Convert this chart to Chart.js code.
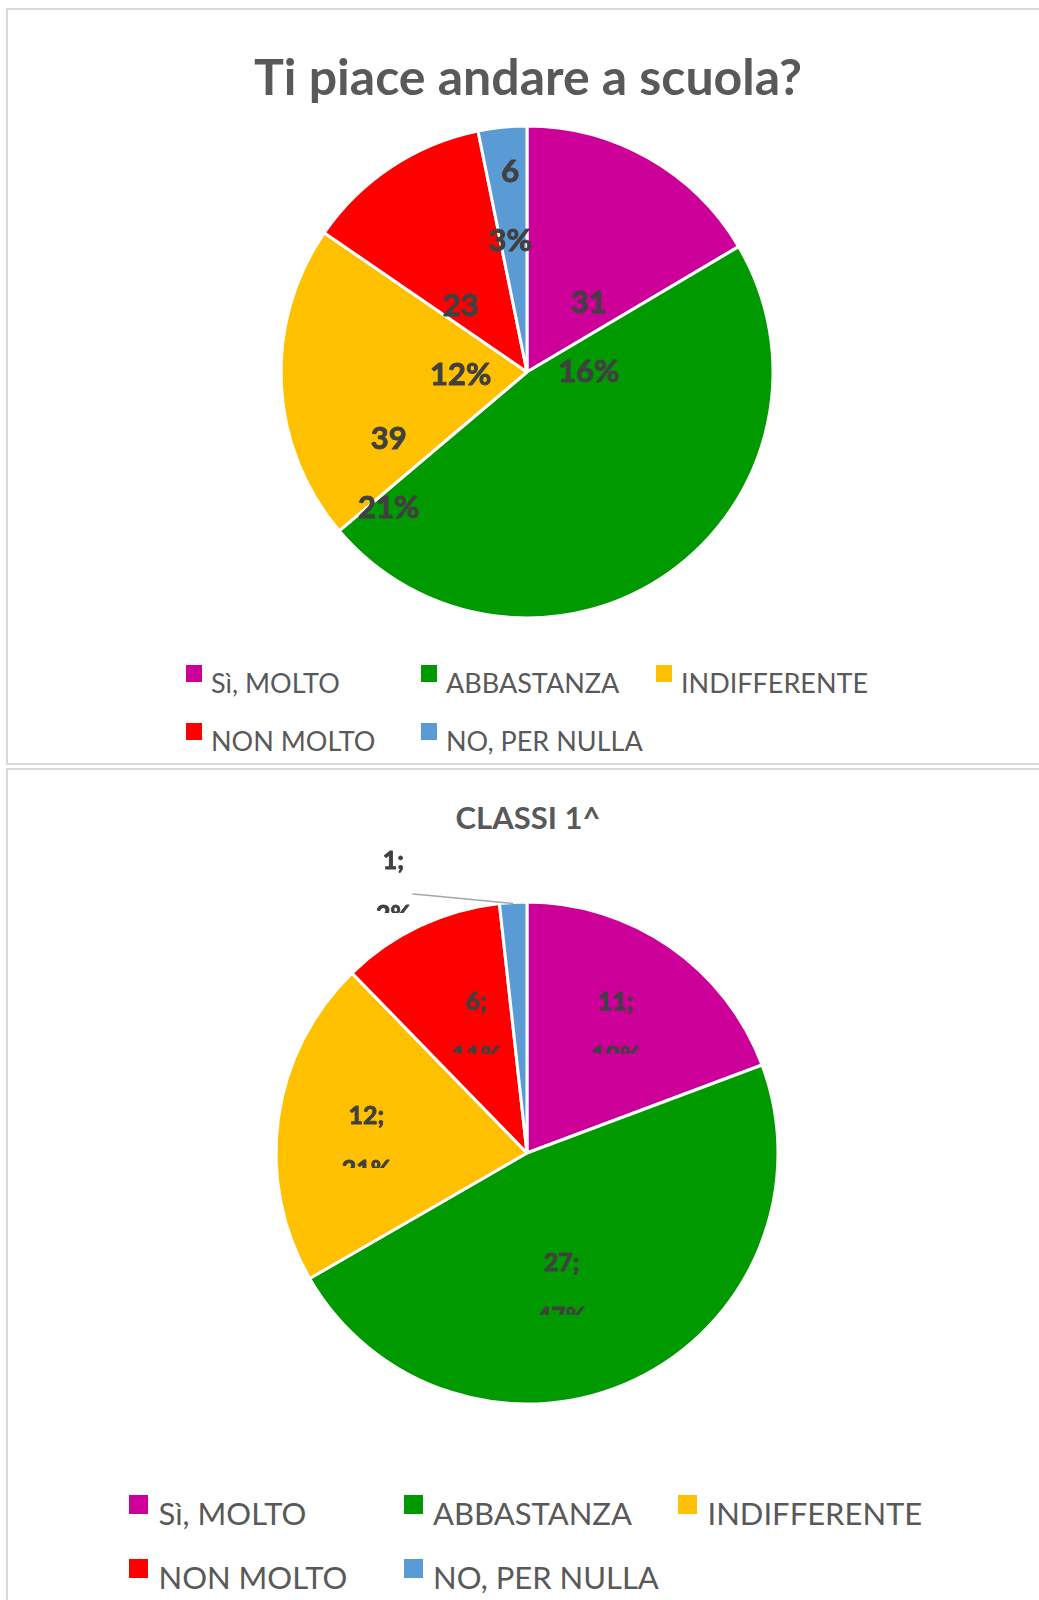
<!DOCTYPE html>
<html>
<head>
<meta charset="utf-8">
<title>Ti piace andare a scuola?</title>
<script src="https://cdn.jsdelivr.net/npm/chart.js@4.4.1/dist/chart.umd.min.js"></script>
<style>
  body { margin: 0; background: #fff; font-family: Lato, sans-serif; }
  .panel { position: absolute; left: 6px; width: 1100px; border: 2px solid #d9d9d9; border-right: none; box-sizing: border-box; }
  .title { position: absolute; left: 0; width: 1056px; text-align: center; color: #595959; font-weight: bold; line-height: 1.2; white-space: nowrap; }
  .item { position: absolute; color: #595959; line-height: 1.2; white-space: nowrap; }
  .item i { position: absolute; left: 0; display: block; }
  canvas { position: absolute; }
</style>
</head>
<body>
<div class="panel" style="top:8px;height:757px"></div>
<div class="panel" style="top:768px;height:900px"></div>

<div class="title" style="top:46px;font-size:50px">Ti piace andare a scuola?</div>
<canvas id="chartTotal" width="560" height="560" style="left:247px;top:92px"></canvas>
<div id="legendTotal"></div>

<div class="title" style="top:799px;font-size:31px">CLASSI 1^</div>
<canvas id="chartClassi1" width="680" height="680" style="left:187px;top:813px"></canvas>
<div id="legendClassi1"></div>

<script>
const categories = ['Sì, MOLTO', 'ABBASTANZA', 'INDIFFERENTE', 'NON MOLTO', 'NO, PER NULLA'];
const totalValues = [31, 89, 39, 23, 6];
const classi1Values = [11, 27, 12, 6, 1];
const sliceColors = ['#CC0099', '#009900', '#FFC000', '#FF0000', '#5B9BD5'];

// value + percent labels, placed from each arc's mid angle
const sliceLabels = {
    id: 'sliceLabels',
    afterDatasetsDraw(chart, args, opts) {
        const ctx = chart.ctx;
        const values = chart.data.datasets[0].data;
        const total = values.reduce((a, b) => a + b, 0);
        const cap = opts.size * 0.723;
        const put = (text, x, y) => {
            ctx.strokeText(text, x, y);
            ctx.fillText(text, x, y);
        };
        ctx.save();
        ctx.font = 'bold ' + opts.size + 'px Lato';
        ctx.fillStyle = '#404040';
        ctx.strokeStyle = '#404040';
        ctx.lineWidth = 0.9;
        ctx.lineJoin = 'round';
        ctx.textAlign = 'center';
        ctx.textBaseline = 'alphabetic';
        chart.getDatasetMeta(0).data.forEach((arc, i) => {
            const place = opts.place[i];
            if (!place) return;
            const mid = (arc.startAngle + arc.endAngle) / 2;
            const a = mid + place[1] * Math.PI / 180;
            const x = arc.x + Math.cos(a) * arc.outerRadius * place[0];
            const y = arc.y + Math.sin(a) * arc.outerRadius * place[0];
            ctx.save();
            if (opts.clip) {
                const bottom = y + opts.pitch / 2 - cap / 2 + opts.clip;
                ctx.beginPath();
                ctx.rect(x - 80, y - opts.pitch, 160, bottom - (y - opts.pitch));
                ctx.clip();
            }
            put(values[i] + opts.suffix, x, y - opts.pitch / 2 + cap / 2);
            put(Math.round(values[i] / total * 100) + '%', x, y + opts.pitch / 2 + cap / 2);
            ctx.restore();
            if (place[0] > 1) {
                const r = arc.outerRadius - 1;
                ctx.save();
                ctx.strokeStyle = '#a6a6a6';
                ctx.lineWidth = 1.5;
                ctx.beginPath();
                ctx.moveTo(x + 19, y + 7);
                ctx.lineTo(x + 31, y + 8);
                ctx.lineTo(arc.x + Math.cos(mid) * r, arc.y + Math.sin(mid) * r);
                ctx.stroke();
                ctx.restore();
            }
        });
        ctx.restore();
    }
};

function makePie(id, values, radius, labelOpts) {
    return new Chart(document.getElementById(id).getContext('2d'), {
        type: 'pie',
        data: {
            labels: categories,
            datasets: [{
                data: values,
                backgroundColor: sliceColors,
                borderColor: '#ffffff',
                borderWidth: 3,
                radius: radius
            }]
        },
        options: {
            responsive: false,
            animation: false,
            devicePixelRatio: 1,
            layout: { padding: 0 },
            plugins: {
                legend: { display: false },
                title: { display: false },
                tooltip: { enabled: false },
                sliceLabels: labelOpts
            }
        },
        plugins: [sliceLabels]
    });
}

function makeLegend(id, left, top, colWidth, rowPitch, size, box, gap) {
    const holder = document.getElementById(id);
    categories.forEach((name, i) => {
        const col = i % 3, row = Math.floor(i / 3);
        const item = document.createElement('div');
        item.className = 'item';
        item.style.left = (left + col * colWidth) + 'px';
        item.style.top = (top + row * rowPitch) + 'px';
        item.style.fontSize = size + 'px';
        item.style.paddingLeft = gap + 'px';
        const mark = document.createElement('i');
        mark.style.background = sliceColors[i];
        mark.style.width = box[0] + 'px';
        mark.style.height = box[1] + 'px';
        mark.style.top = box[2] + 'px';
        item.appendChild(mark);
        item.appendChild(document.createTextNode(name));
        holder.appendChild(item);
    });
}

makePie('chartTotal', totalValues, 246, {
    size: 31, pitch: 69, suffix: '', clip: 0,
    place: [[0.291, 30], null, [0.694, -33], [0.301, -30], [0.68, 0]]
});
makePie('chartClassi1', classi1Values, 251, {
    size: 25, pitch: 54, suffix: ';', clip: 8,
    place: [[0.613, 0.6], [0.558, 11], [0.641, -4], [0.539, 3.3], [1.186, -23.5]]
});

makeLegend('legendTotal', 186, 667, 235, 58, 27, [16, 17, -2], 25);
makeLegend('legendClassi1', 129, 1495, 274.5, 64, 31, [19, 19, 0], 29.5);
</script>
</body>
</html>
